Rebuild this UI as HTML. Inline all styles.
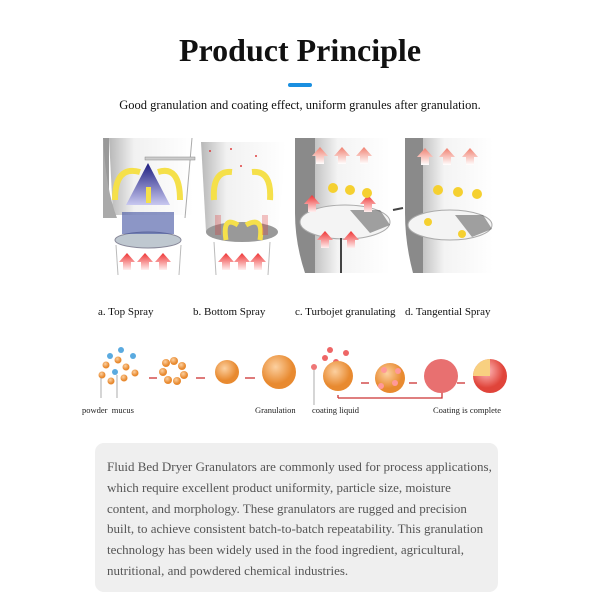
<!DOCTYPE html>
<html><head><meta charset="utf-8"><style>
body{margin:0;width:600px;height:600px;background:#fff;position:relative;font-family:"Liberation Serif",serif;overflow:hidden}
.t{position:absolute;left:0;width:600px;text-align:center}
.cap{position:absolute;font-size:11px;color:#111;top:306px}
.sm{position:absolute;font-size:8.5px;color:#222;top:405px}
.box{position:absolute;left:95px;top:443px;width:403px;height:149px;background:#efefef;border-radius:9px}
.box p{margin:0;padding:14px 0 0 12px;white-space:nowrap;font-size:13px;line-height:20.8px;color:#555}
</style></head><body>
<div class="t" style="top:32px;font-size:32px;font-weight:bold;color:#111">Product Principle</div>
<div style="position:absolute;left:288px;top:83px;width:24px;height:4px;background:#1a8fe0;border-radius:2px"></div>
<div class="t" style="top:98px;font-size:12.5px;color:#111">Good granulation and coating effect, uniform granules after granulation.</div>
<svg style="position:absolute;left:0;top:0" width="600" height="600">
<defs>
<linearGradient id="w" x1="0" x2="1"><stop offset="0" stop-color="#888"/><stop offset=".3" stop-color="#e8e8e8"/><stop offset="1" stop-color="#fff"/></linearGradient>
<linearGradient id="r" x1="0" y1="1" x2="0" y2="0"><stop offset="0" stop-color="#fff0f0"/><stop offset="1" stop-color="#e33"/></linearGradient>
<linearGradient id="r2" x1="0" y1="1" x2="0" y2="0"><stop offset="0" stop-color="#fff"/><stop offset="1" stop-color="#f08070"/></linearGradient>
<linearGradient id="b" x1="0" y1="0" x2="0" y2="1"><stop offset="0" stop-color="#1c1c80"/><stop offset="1" stop-color="#c8c8f0"/></linearGradient>
<radialGradient id="o" cx=".4" cy=".35"><stop offset="0" stop-color="#fcd0a0"/><stop offset="1" stop-color="#e88a30"/></radialGradient>
<radialGradient id="rd" cx=".4" cy=".35"><stop offset="0" stop-color="#fbb"/><stop offset="1" stop-color="#e0443a"/></radialGradient>
<g id="ua"><path d="M-4 12V4h-4l8-9 8 9h-4v8z"/></g>
</defs>
<path d="M103 138h6v80l-4 0z" fill="#999"/><path d="M109 138L113 215h80L190 138" fill="url(#w)" opacity=".6"/>
<path d="M103 138Q106 190 117 218L103 218Z" fill="#aaa"/>
<line x1="192" y1="138" x2="185" y2="218" stroke="#aaa"/>
<path d="M148 163l-22 42h44z" fill="url(#b)"/>
<rect x="145" y="157" width="50" height="3" fill="#ccc" stroke="#888" stroke-width=".5"/>
<path d="M115 200Q115 165 140 172" stroke="#f5e04a" stroke-width="6" fill="none"/><path d="M180 200Q180 165 158 172" stroke="#f5e04a" stroke-width="6" fill="none"/>
<rect x="146" y="187" width="5" height="16" fill="#f5e04a"/>
<ellipse cx="148" cy="240" rx="33" ry="8" fill="#bfc8d0" stroke="#889"/>
<g fill="#4050a0" opacity=".6"><rect x="122" y="212" width="52" height="22"/></g>
<line x1="116" y1="245" x2="118" y2="275" stroke="#bbb"/><line x1="181" y1="245" x2="179" y2="275" stroke="#bbb"/>
<g fill="url(#r)"><use href="#ua" x="127" y="258"/><use href="#ua" x="145" y="258"/><use href="#ua" x="163" y="258"/></g>
<path d="M201 142h85l-8 90h-72z" fill="url(#w)" opacity=".6"/>
<ellipse cx="242" cy="232" rx="36" ry="10" fill="#999"/>
<path d="M214 200Q212 170 232 172" stroke="#f5e04a" stroke-width="6" fill="none"/><path d="M270 200Q272 170 252 172" stroke="#f5e04a" stroke-width="6" fill="none"/>
<path d="M226 240Q222 215 238 225M260 240Q264 215 246 225" stroke="#f5e04a" stroke-width="5" fill="none"/>
<g fill="#d33" opacity=".7"><rect x="209" y="150" width="2" height="2"/><rect x="230" y="148" width="2" height="2"/><rect x="255" y="155" width="2" height="2"/><rect x="240" y="165" width="2" height="2"/><rect x="215" y="215" width="6" height="20" opacity=".4"/><rect x="262" y="215" width="6" height="20" opacity=".4"/></g>
<line x1="214" y1="242" x2="216" y2="275" stroke="#bbb"/><line x1="270" y1="242" x2="268" y2="275" stroke="#bbb"/>
<g fill="url(#r)"><use href="#ua" x="226" y="258"/><use href="#ua" x="242" y="258"/><use href="#ua" x="258" y="258"/></g>
<path d="M295 138h20v135h-10q-10-30-10-60z" fill="#8a8a8a"/>
<path d="M315 138h75v135h-75z" fill="url(#w)" opacity=".5"/>
<ellipse cx="345" cy="222" rx="45" ry="17" fill="#f4f4f4" stroke="#aaa"/>
<path d="M350 210l30 0 10 15-20 8z" fill="#666" opacity=".6"/>
<g fill="url(#r2)"><use href="#ua" x="320" y="152"/><use href="#ua" x="342" y="152"/><use href="#ua" x="364" y="152"/></g>
<g fill="url(#r)"><use href="#ua" x="325" y="236"/><use href="#ua" x="351" y="236"/><use href="#ua" x="312" y="200"/><use href="#ua" x="368" y="200"/></g>
<g fill="#f5d030"><circle cx="333" cy="188" r="5"/><circle cx="350" cy="190" r="5"/><circle cx="367" cy="193" r="5"/></g>
<line x1="341" y1="238" x2="341" y2="273" stroke="#444" stroke-width="2"/>
<path d="M405 138h18v135h-10q-8-30-8-60z" fill="#8a8a8a"/>
<path d="M423 138h70v135h-70z" fill="url(#w)" opacity=".5"/>
<ellipse cx="450" cy="225" rx="42" ry="15" fill="#f4f4f4" stroke="#aaa"/>
<path d="M455 215l28 0 9 14-20 8z" fill="#666" opacity=".6"/>
<g fill="url(#r2)"><use href="#ua" x="425" y="153"/><use href="#ua" x="447" y="153"/><use href="#ua" x="470" y="153"/></g>
<g fill="#f5d030"><circle cx="438" cy="190" r="5"/><circle cx="458" cy="192" r="5"/><circle cx="477" cy="194" r="5"/><circle cx="428" cy="222" r="4"/><circle cx="462" cy="234" r="4"/></g>
<line x1="393" y1="210" x2="403" y2="208" stroke="#444" stroke-width="2"/>
<g fill="#5aaae0"><circle cx="121" cy="350" r="3"/><circle cx="133" cy="356" r="3"/><circle cx="110" cy="356" r="3"/><circle cx="115" cy="372" r="3"/></g>
<g fill="url(#o)"><circle cx="102" cy="375" r="3.5"/><circle cx="118" cy="360" r="3.5"/><circle cx="106" cy="365" r="3.5"/><circle cx="126" cy="367" r="3.5"/><circle cx="135" cy="373" r="3.5"/><circle cx="124" cy="378" r="3.5"/><circle cx="111" cy="381" r="3.5"/></g>
<line x1="101" y1="378" x2="101" y2="398" stroke="#888" stroke-width=".7"/><line x1="117" y1="375" x2="117" y2="398" stroke="#888" stroke-width=".7"/>
<g fill="url(#o)"><circle cx="166" cy="363" r="4"/><circle cx="174" cy="361" r="4"/><circle cx="182" cy="366" r="4"/><circle cx="184" cy="375" r="4"/><circle cx="177" cy="381" r="4"/><circle cx="168" cy="380" r="4"/><circle cx="163" cy="372" r="4"/></g>
<circle cx="227" cy="372" r="12" fill="url(#o)"/>
<circle cx="279" cy="372" r="17" fill="url(#o)"/>
<g stroke="#c33" stroke-width="1.3" fill="#c33"><line x1="149" y1="378" x2="157" y2="378"/><line x1="196" y1="378" x2="205" y2="378"/><line x1="245" y1="378" x2="255" y2="378"/><line x1="361" y1="383" x2="369" y2="383"/><line x1="409" y1="383" x2="417" y2="383"/><line x1="457" y1="383" x2="465" y2="383"/>
<path d="M338 398V395M338 398H442V388" fill="none"/></g>
<g fill="#e66"><circle cx="325" cy="358" r="3"/><circle cx="330" cy="350" r="3"/><circle cx="346" cy="353" r="3"/><circle cx="336" cy="362" r="3"/></g>
<line x1="314" y1="370" x2="314" y2="405" stroke="#888" stroke-width=".7"/><circle cx="314" cy="367" r="3" fill="#e77"/>
<circle cx="338" cy="376" r="15" fill="url(#o)"/>
<circle cx="390" cy="378" r="15" fill="url(#o)"/><g fill="#f99"><circle cx="384" cy="370" r="3"/><circle cx="395" cy="383" r="3"/><circle cx="381" cy="386" r="3"/><circle cx="398" cy="371" r="3"/></g>
<circle cx="441" cy="376" r="17" fill="#e87070"/>
<circle cx="490" cy="376" r="17" fill="url(#rd)"/><path d="M490 376V359A17 17 0 0 0 473 376Z" fill="#f8d080"/>
</svg>
<div class="cap" style="left:98px">a. Top Spray</div>
<div class="cap" style="left:193px">b. Bottom Spray</div>
<div class="cap" style="left:295px">c. Turbojet granulating</div>
<div class="cap" style="left:405px">d. Tangential Spray</div>
<div class="sm" style="left:82px">powder&nbsp; mucus</div>
<div class="sm" style="left:255px">Granulation</div>
<div class="sm" style="left:312px">coating liquid</div>
<div class="sm" style="left:433px">Coating is complete</div>
<div class="box"><p>Fluid Bed Dryer Granulators are commonly used for process applications,<br>which require excellent product uniformity, particle size, moisture<br>content, and morphology. These granulators are rugged and precision<br>built, to achieve consistent batch-to-batch repeatability. This granulation<br>technology has been widely used in the food ingredient, agricultural,<br>nutritional, and powdered chemical industries.</p></div>
</body></html>
